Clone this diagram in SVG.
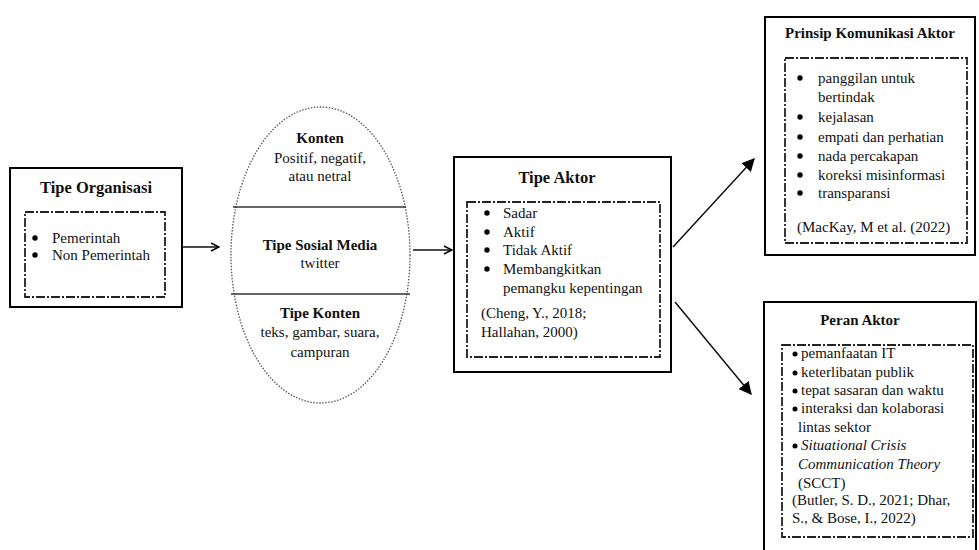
<svg xmlns="http://www.w3.org/2000/svg" width="979" height="550" viewBox="0 0 979 550">
<defs>
<marker id="open" viewBox="0 0 10 10" refX="9" refY="5" markerWidth="10" markerHeight="10" markerUnits="userSpaceOnUse" orient="auto">
<path d="M1,1 L9,5 L1,9" fill="none" stroke="#000" stroke-width="1.5"/>
</marker>
<marker id="solid" viewBox="0 0 10 10" refX="9" refY="5" markerWidth="13" markerHeight="13" markerUnits="userSpaceOnUse" orient="auto">
<path d="M0,0 L10,5 L0,10 Z" fill="#000"/>
</marker>
</defs>
<style>
text{font-family:"Liberation Serif","Times New Roman",serif;font-size:15px;fill:#111;}
.t{font-weight:bold;text-anchor:middle;}
.tl{font-size:16.5px;}
.c{text-anchor:middle;}
.outer{fill:#fff;stroke:#000;stroke-width:2;}
.inner{fill:none;stroke:#222;stroke-width:1.8;stroke-dasharray:9 2 2 2;}
.b{fill:#000;}
.conn{stroke:#111;stroke-width:1.5;fill:none;}
</style>
<rect width="979" height="550" fill="#fff"/>

<g id="tipe-organisasi">
<rect class="outer" x="10" y="168" width="172" height="139"/>
<rect class="inner" x="25" y="212" width="140" height="85"/>
<text class="t tl" x="96" y="193">Tipe Organisasi</text>
<circle class="b" cx="35" cy="238" r="2.7"/>
<text x="52" y="243">Pemerintah</text>
<circle class="b" cx="35" cy="255" r="2.7"/>
<text x="52" y="260">Non Pemerintah</text>
</g>

<g id="media-ellipse">
<ellipse cx="320.5" cy="255" rx="89.5" ry="148" fill="#fff" stroke="#555" stroke-width="1.3" stroke-dasharray="1.5 1.5"/>
<line x1="233" y1="207" x2="406" y2="207" stroke="#333" stroke-width="1.3"/>
<line x1="231" y1="294" x2="410" y2="294" stroke="#333" stroke-width="1.3"/>
<text class="t" x="320" y="143">Konten</text>
<text class="c" x="320" y="163">Positif, negatif,</text>
<text class="c" x="320" y="181">atau netral</text>
<text class="t" x="320" y="250">Tipe Sosial Media</text>
<text class="c" x="320" y="268">twitter</text>
<text class="t" x="320" y="318">Tipe Konten</text>
<text class="c" x="320" y="337">teks, gambar, suara,</text>
<text class="c" x="320" y="357">campuran</text>
</g>

<g id="tipe-aktor">
<rect class="outer" x="454" y="157" width="217" height="215"/>
<rect class="inner" x="467" y="202" width="193" height="155"/>
<text class="t tl" x="557" y="183">Tipe Aktor</text>
<circle class="b" cx="487" cy="213" r="2.7"/>
<text x="503" y="218">Sadar</text>
<circle class="b" cx="487" cy="232" r="2.7"/>
<text x="503" y="237">Aktif</text>
<circle class="b" cx="487" cy="250" r="2.7"/>
<text x="503" y="255">Tidak Aktif</text>
<circle class="b" cx="487" cy="269" r="2.7"/>
<text x="503" y="274">Membangkitkan</text>
<text x="503" y="293">pemangku kepentingan</text>
<text x="481" y="318">(Cheng, Y., 2018;</text>
<text x="481" y="337">Hallahan, 2000)</text>
</g>

<g id="prinsip-komunikasi">
<rect class="outer" x="765" y="17" width="210" height="238"/>
<rect class="inner" x="785" y="58" width="182" height="185"/>
<text class="t" x="870" y="38">Prinsip Komunikasi Aktor</text>
<circle class="b" cx="800" cy="78" r="2.7"/>
<text x="818" y="83">panggilan untuk</text>
<text x="818" y="102">bertindak</text>
<circle class="b" cx="800" cy="117" r="2.7"/>
<text x="818" y="122">kejalasan</text>
<circle class="b" cx="800" cy="137" r="2.7"/>
<text x="818" y="142">empati dan perhatian</text>
<circle class="b" cx="800" cy="156" r="2.7"/>
<text x="818" y="161">nada percakapan</text>
<circle class="b" cx="800" cy="175" r="2.7"/>
<text x="818" y="180">koreksi misinformasi</text>
<circle class="b" cx="800" cy="193" r="2.7"/>
<text x="818" y="198">transparansi</text>
<text x="797" y="232">(MacKay, M et al. (2022)</text>
</g>

<g id="peran-aktor">
<rect class="outer" x="764" y="302" width="212" height="260"/>
<rect class="inner" x="782" y="345" width="191" height="192"/>
<text class="t" x="860" y="325">Peran Aktor</text>
<circle class="b" cx="795" cy="354" r="2.5"/>
<text x="801" y="358">pemanfaatan IT</text>
<circle class="b" cx="795" cy="373" r="2.5"/>
<text x="801" y="377">keterlibatan publik</text>
<circle class="b" cx="795" cy="391" r="2.5"/>
<text x="801" y="395">tepat sasaran dan waktu</text>
<circle class="b" cx="795" cy="409" r="2.5"/>
<text x="801" y="413">interaksi dan kolaborasi</text>
<text x="798" y="432">lintas sektor</text>
<circle class="b" cx="795" cy="446" r="2.5"/>
<text x="801" y="450" font-style="italic">Situational Crisis</text>
<text x="798" y="469" font-style="italic">Communication Theory</text>
<text x="798" y="488">(SCCT)</text>
<text x="792" y="505">(Butler, S. D., 2021; Dhar,</text>
<text x="792" y="523">S., &amp; Bose, I., 2022)</text>
</g>

<g id="connectors">
<line class="conn" x1="183" y1="247" x2="219" y2="247" marker-end="url(#open)"/>
<line class="conn" x1="413" y1="250" x2="452" y2="250" marker-end="url(#open)"/>
<line class="conn" x1="673" y1="247" x2="754" y2="159" marker-end="url(#solid)"/>
<line class="conn" x1="675" y1="302" x2="751" y2="394" marker-end="url(#solid)"/>
</g>
</svg>
